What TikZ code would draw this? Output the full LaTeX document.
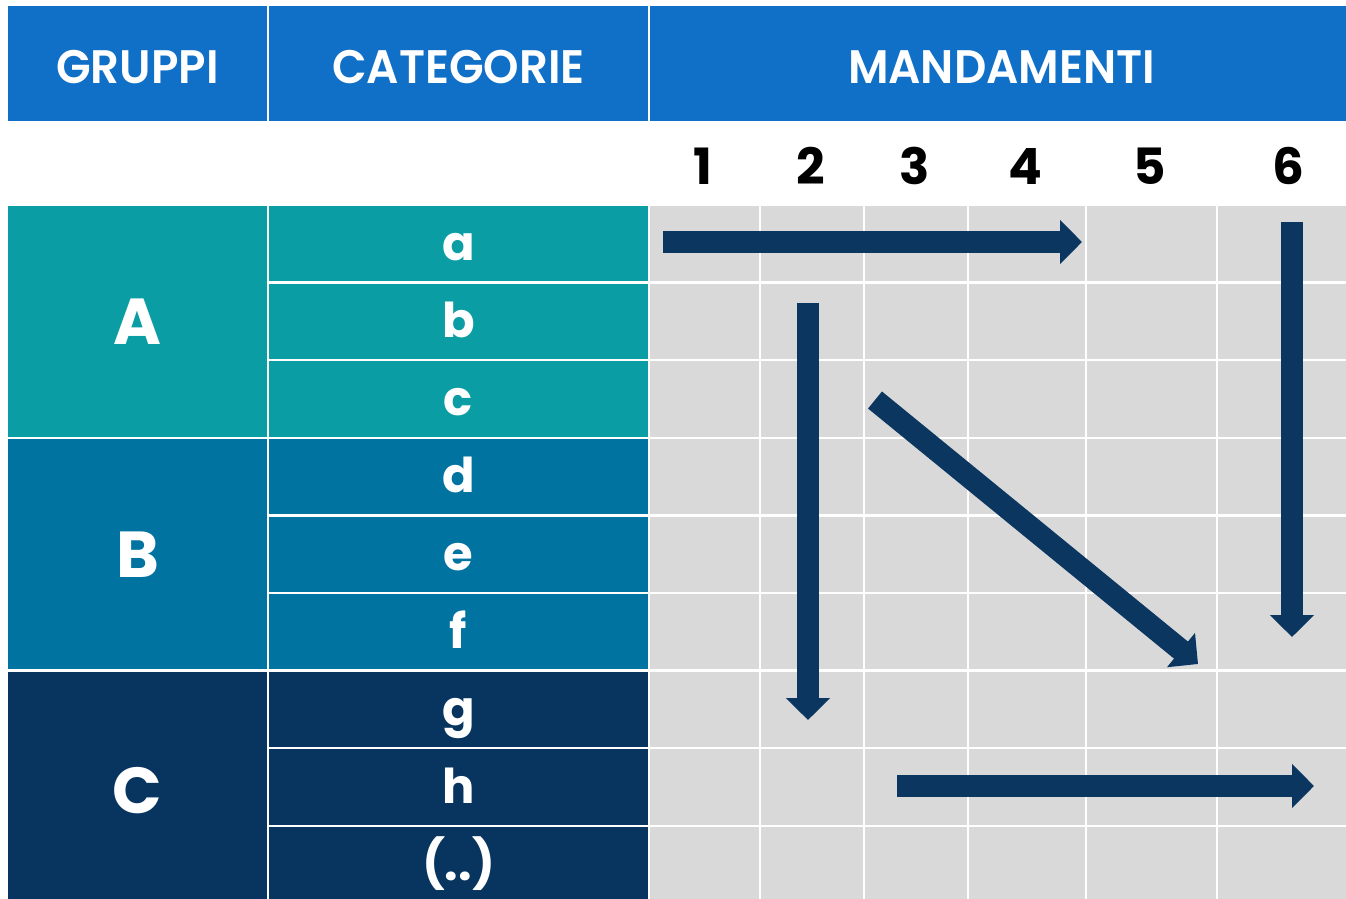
\documentclass[tikz,border=0pt]{standalone}
\usepackage{fontspec}
\setmainfont{Poppins}
\newfontfamily\hdrfamily[FakeStretch=0.96]{Poppins SemiBold}
\usetikzlibrary{arrows.meta}

\definecolor{hdrblue}{HTML}{1070C7}
\definecolor{grpA}{HTML}{0A9DA4}
\definecolor{grpB}{HTML}{0073A1}
\definecolor{grpC}{HTML}{08355F}
\definecolor{gridgray}{HTML}{D9D9D9}
\definecolor{arrowblue}{HTML}{0A3660}

\tikzset{
    cellbox/.style={draw=white, line width=2.5pt, inner sep=0pt, outer sep=0pt,
        anchor=north west, text=white},
    hdrbox/.style={cellbox, fill=hdrblue, text height=39pt, text depth=0pt,
        font=\hdrfamily\fontsize{47}{47}\selectfont},
    catbox/.style={cellbox, minimum width=381, minimum height=77.6,
        text height=36pt, text depth=3.6pt, font=\bfseries\fontsize{48}{48}\selectfont},
    numlabel/.style={font=\bfseries\fontsize{50}{50}\selectfont, text=black},
    flowarrow/.style={draw=arrowblue, line width=22pt, -{Triangle[length=22pt,width=43pt]}}
}

\begin{document}
\begin{tikzpicture}[x=1pt,y=-1pt]
    \useasboundingbox (0,0) rectangle (1346,898);
    \clip (0,0) rectangle (1346,898);
    \fill[white] (0,0) rectangle (1346,898);

    % header row
    \node[hdrbox, minimum width=261, minimum height=117] (gruppi) at (7,5) {GRUPPI};
    \node[hdrbox, minimum width=381, minimum height=117] (categorie) at (268,5) {CATEGORIE};
    \node[hdrbox, minimum width=705, minimum height=117] (mandamenti) at (649,5) {MANDAMENTI};

    % numbers
    \foreach \n/\xn in {1/703,2/811,3/915,4/1025,5/1150,6/1288}
        \node[numlabel] (num-\n) at (\xn,166) {\n};

    % groups
    \node[cellbox, fill=grpA, minimum width=261, minimum height=232.8,
        font=\bfseries\fontsize{65}{65}\selectfont] (grp-A) at (7,205) {A};
    \node[cellbox, fill=grpB, minimum width=261, minimum height=232.8,
        font=\bfseries\fontsize{65}{65}\selectfont] (grp-B) at (7,437.8) {B};
    \node[cellbox, fill=grpC, minimum width=261, minimum height=240,
        font=\bfseries\fontsize{65}{65}\selectfont] (grp-C) at (7,670.6) {C};

    % categories
    \foreach \cat/\col [count=\k from 0] in {a/grpA,b/grpA,c/grpA,d/grpB,e/grpB,f/grpB,g/grpC,h/grpC,(..)/grpC}{
        \pgfmathsetmacro\ycat{205+77.6*\k}
        \node[catbox, fill=\col] (cat-\k) at (268,\ycat) {\cat};
    }

    % grid of mandamenti
    \foreach \xa/\xb [count=\i] in {649/760,760/864,864/968,968/1086,1086/1217,1217/1352}
        \foreach \k in {0,...,8}{
            \pgfmathsetmacro\ycell{205+77.6*\k}
            \node[cellbox, fill=gridgray, minimum width=\xb-\xa, minimum height=77.6]
                (cell-\i-\k) at (\xa,\ycell) {};
        }

    % arrows
    \coordinate (arr1-s) at (663,242);
    \coordinate (arr1-e) at (1082,242);
    \coordinate (arr2-s) at (808,303);
    \coordinate (arr2-e) at (808,720);
    \coordinate (arr3-s) at (875,400);
    \coordinate (arr3-e) at (1198,664);
    \coordinate (arr4-s) at (1292,222);
    \coordinate (arr4-e) at (1292,637);
    \coordinate (arr5-s) at (897,786);
    \coordinate (arr5-e) at (1314,786);
    \foreach \a in {1,...,5}
        \draw[flowarrow] (arr\a-s) -- (arr\a-e);
\end{tikzpicture}
\end{document}
